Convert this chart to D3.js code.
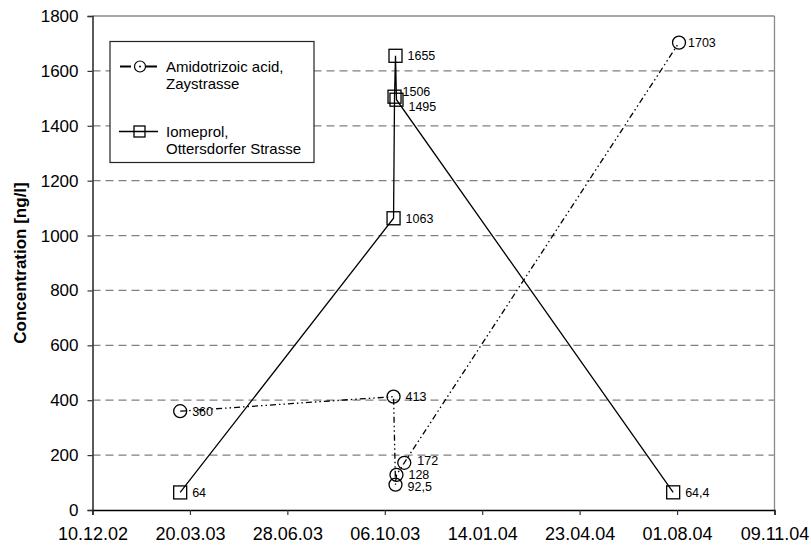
<!DOCTYPE html>
<html>
<head>
<meta charset="utf-8">
<script src="https://cdn.jsdelivr.net/npm/d3@7/dist/d3.min.js"></script>
<style>
  html, body { margin: 0; padding: 0; background: #fff; }
  svg { display: block; font-family: "Liberation Sans", Arial, sans-serif; }
</style>
</head>
<body>
<svg id="chart" width="811" height="546"></svg>
<script>
// Sampling dates and measured concentrations (ng/l)
const amidoDates  = ["2003-03-10", "2003-10-15", "2003-10-17", "2003-10-18", "2003-10-26", "2004-08-03"];
const amidoValues = [360, 413, 92.5, 128, 172, 1703];
const iomeDates   = ["2003-03-10", "2003-10-15", "2003-10-16", "2003-10-17", "2003-10-18", "2004-07-28"];
const iomeValues  = [64, 1063, 1506, 1655, 1495, 64.4];

const seriesNames = [["Amidotrizoic acid,", "Zaystrasse"], ["Iomeprol,", "Ottersdorfer Strasse"]];
const xTickLabels = ["10.12.02", "20.03.03", "28.06.03", "06.10.03", "14.01.04", "23.04.04", "01.08.04", "09.11.04"];
const yTicks = [0, 200, 400, 600, 800, 1000, 1200, 1400, 1600, 1800];

const parse = d3.timeParse("%Y-%m-%d");
const parseTick = d3.timeParse("%d.%m.%y");
const xTickDates = xTickLabels.map(parseTick);

const svg = d3.select("#chart");
const plotLeft = 92.5, plotRight = 774.5, plotTop = 16, plotBottom = 510;

const x = d3.scaleTime().domain([xTickDates[0], xTickDates[xTickDates.length - 1]]).range([plotLeft, plotRight]);
const y = d3.scaleLinear().domain([0, 1800]).range([plotBottom, plotTop]);

const fmt = v => String(v).replace(".", ",");

// Horizontal dashed gridlines
svg.append("g").selectAll("line")
  .data(yTicks.filter(v => v > 0 && v < 1800))
  .join("line")
  .attr("x1", plotLeft).attr("x2", plotRight)
  .attr("y1", d => y(d)).attr("y2", d => y(d))
  .attr("stroke", "#808080").attr("stroke-width", 1.2)
  .attr("stroke-dasharray", "8,5");

// Plot frame: top and right in grey
svg.append("line").attr("x1", plotLeft).attr("x2", plotRight).attr("y1", plotTop).attr("y2", plotTop)
  .attr("stroke", "#8a8a8a").attr("stroke-width", 1.3);
svg.append("line").attr("x1", plotRight).attr("x2", plotRight).attr("y1", plotTop).attr("y2", plotBottom)
  .attr("stroke", "#8a8a8a").attr("stroke-width", 1.3);

// Axes
const yAxis = d3.axisLeft(y).tickValues(yTicks).tickSize(5).tickPadding(9).tickFormat(d3.format("d"));
const gy = svg.append("g").attr("transform", `translate(${plotLeft},0)`).call(yAxis);
gy.select(".domain").attr("stroke", "#333").attr("stroke-width", 1.6);
gy.selectAll(".tick line").attr("stroke", "#333").attr("stroke-width", 1.2);
gy.selectAll(".tick text").attr("font-size", 17).attr("fill", "#000")
  .attr("font-family", "Liberation Sans, Arial, sans-serif");

const xAxis = d3.axisBottom(x).tickValues(xTickDates).tickSize(5).tickPadding(12)
  .tickFormat((d, i) => xTickLabels[i]);
const gx = svg.append("g").attr("transform", `translate(0,${plotBottom})`).call(xAxis);
gx.select(".domain").attr("stroke", "#000").attr("stroke-width", 1.5);
gx.selectAll(".tick line").attr("stroke", "#333").attr("stroke-width", 1.2);
gx.selectAll(".tick text").attr("font-size", 18).attr("fill", "#000")
  .attr("font-family", "Liberation Sans, Arial, sans-serif");

// Y axis title
svg.append("text")
  .attr("transform", `translate(26,${(plotTop + plotBottom) / 2}) rotate(-90)`)
  .attr("text-anchor", "middle")
  .attr("font-size", 17).attr("font-weight", "bold")
  .text("Concentration [ng/l]");

const amido = amidoDates.map((d, i) => ({ date: parse(d), value: amidoValues[i] }));
const iome = iomeDates.map((d, i) => ({ date: parse(d), value: iomeValues[i] }));

const line = d3.line().x(d => x(d.date)).y(d => y(d.value));
const dashAmido = "6,3,1.5,3,1.5,3";

svg.append("path").datum(amido).attr("d", line)
  .attr("fill", "none").attr("stroke", "#000").attr("stroke-width", 1.3)
  .attr("stroke-dasharray", dashAmido);
svg.append("path").datum(iome).attr("d", line)
  .attr("fill", "none").attr("stroke", "#000").attr("stroke-width", 1.3);

// Markers
svg.append("g").selectAll("circle").data(amido).join("circle")
  .attr("cx", d => x(d.date)).attr("cy", d => y(d.value)).attr("r", 6.5)
  .attr("fill", "none").attr("stroke", "#000").attr("stroke-width", 1.3);
svg.append("g").selectAll("rect").data(iome).join("rect")
  .attr("x", d => x(d.date) - 6.5).attr("y", d => y(d.value) - 6.5)
  .attr("width", 13).attr("height", 13)
  .attr("fill", "none").attr("stroke", "#000").attr("stroke-width", 1.3);

// Value labels; crowded points get nudged apart
const nudge = { 1506: [8, -5], 1495: [12, 7], 1703: [9, 0], 172: [13, -2], 128: [12, -0.5], 92.5: [12, 2.5] };
function labels(data) {
  svg.append("g").selectAll("text").data(data).join("text")
    .attr("x", d => x(d.date) + (nudge[d.value] ? nudge[d.value][0] : 12))
    .attr("y", d => y(d.value) + (nudge[d.value] ? nudge[d.value][1] : 0))
    .attr("dy", "0.35em")
    .attr("font-size", 12.5).attr("fill", "#000")
    .text(d => fmt(d.value));
}
labels(amido);
labels(iome);

// Legend
const lg = svg.append("g");
lg.append("rect").attr("x", 110).attr("y", 41.5).attr("width", 204).attr("height", 121)
  .attr("fill", "#fff").attr("stroke", "#222").attr("stroke-width", 1.2);

const legendRows = [66.5, 131.5];
legendRows.forEach((ly, i) => {
  if (i === 0) {
    lg.append("line").attr("x1", 120).attr("x2", 131).attr("y1", ly).attr("y2", ly)
      .attr("stroke", "#000").attr("stroke-width", 2);
    lg.append("line").attr("x1", 146).attr("x2", 157).attr("y1", ly).attr("y2", ly)
      .attr("stroke", "#000").attr("stroke-width", 2);
    lg.append("circle").attr("cx", 140).attr("cy", ly).attr("r", 5.5)
      .attr("fill", "none").attr("stroke", "#000").attr("stroke-width", 1.2);
    lg.append("circle").attr("cx", 140).attr("cy", ly).attr("r", 1)
      .attr("fill", "#000");
  } else {
    lg.append("line").attr("x1", 119).attr("x2", 158).attr("y1", ly).attr("y2", ly)
      .attr("stroke", "#000").attr("stroke-width", 1.3);
    lg.append("rect").attr("x", 134).attr("y", ly - 5.5).attr("width", 11).attr("height", 11)
      .attr("fill", "none").attr("stroke", "#000").attr("stroke-width", 1.3);
  }
  const t = lg.append("text").attr("x", 166).attr("y", ly + 5).attr("font-size", 15).attr("fill", "#000");
  seriesNames[i].forEach((s, j) => {
    t.append("tspan").attr("x", 166).attr("dy", j === 0 ? 0 : 17).text(s);
  });
});
</script>
</body>
</html>
